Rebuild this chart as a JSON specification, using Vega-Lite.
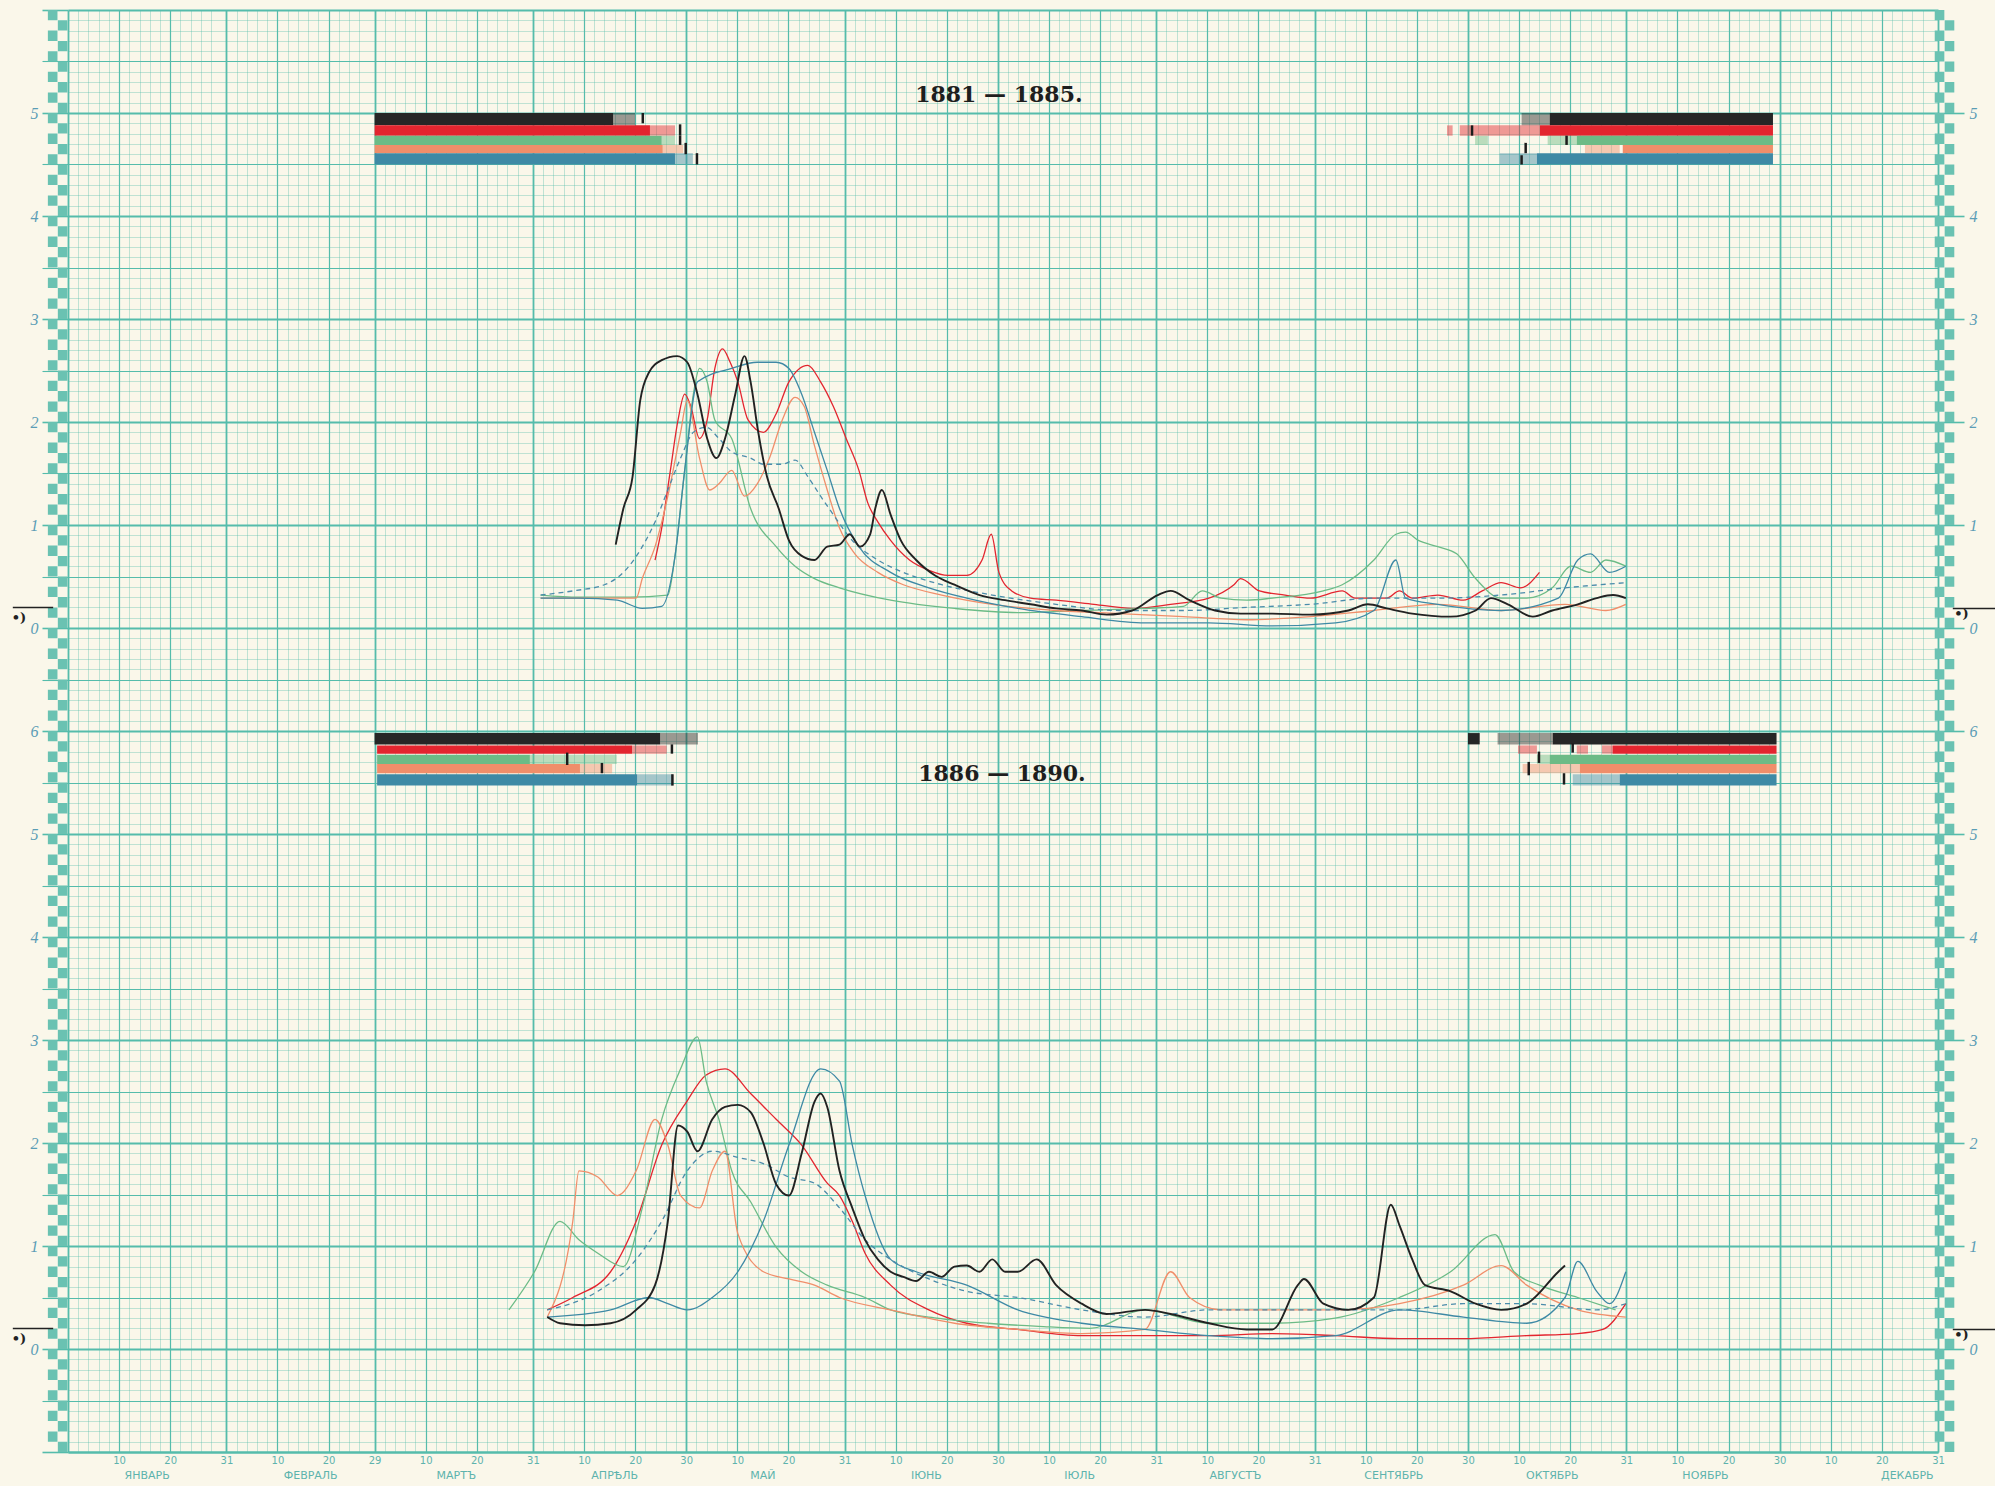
{
  "$schema": "https://vega.github.io/schema/vega-lite/v6.json",
  "width": 1870,
  "height": 1442,
  "autosize": {"type": "none"},
  "padding": {"left": 68, "top": 10, "right": 57, "bottom": 34},
  "background": "#faf7ea",
  "config": {"view": {"stroke": null}},
  "datasets": {
    "months": [
      {"name": "ЯНВАРЬ", "day": 15.5}, {"name": "ФЕВРАЛЬ", "day": 47.5}, {"name": "МАРТЪ", "day": 76},
      {"name": "АПРѢЛЬ", "day": 107}, {"name": "МАЙ", "day": 136}, {"name": "ІЮНЬ", "day": 168},
      {"name": "ІЮЛЬ", "day": 198}, {"name": "АВГУСТЪ", "day": 228.5}, {"name": "СЕНТЯБРЬ", "day": 259.5},
      {"name": "ОКТЯБРЬ", "day": 290.5}, {"name": "НОЯБРЬ", "day": 320.5}, {"name": "ДЕКАБРЬ", "day": 360}
    ],
    "titles": [
      {"period": "1881-1885", "text": "1881 — 1885.", "day": 182.2, "level": 5.17},
      {"period": "1886-1890", "text": "1886 — 1890.", "day": 182.8, "level": 5.58}
    ],
    "notes": [
      {"period": "1881-1885", "text": "•)", "day": -9.6, "level": 0.1},
      {"period": "1881-1885", "text": "•)", "day": 370.6, "level": 0.14},
      {"period": "1886-1890", "text": "•)", "day": -9.6, "level": 0.1},
      {"period": "1886-1890", "text": "•)", "day": 370.6, "level": 0.14}
    ],
    "marks": [
      {"period": "1881-1885", "from": -10.8, "to": -2.9, "level": 0.2},
      {"period": "1881-1885", "from": 368.9, "to": 377.2, "level": 0.19},
      {"period": "1886-1890", "from": -10.8, "to": -2.9, "level": 0.2},
      {"period": "1886-1890", "from": 368.9, "to": 377.2, "level": 0.19}
    ],
    "bars": [
      {"period": "1881-1885", "year": "1881", "tone": "solid", "start": 60, "end": 106.7, "top": 5.0, "bottom": 4.88},
      {"period": "1881-1885", "year": "1881", "tone": "light", "start": 106.7, "end": 111, "top": 5.0, "bottom": 4.88},
      {"period": "1881-1885", "year": "1881", "tone": "light", "start": 284.5, "end": 290, "top": 5.0, "bottom": 4.88},
      {"period": "1881-1885", "year": "1881", "tone": "solid", "start": 290, "end": 333.7, "top": 5.0, "bottom": 4.88},
      {"period": "1881-1885", "year": "1882", "tone": "solid", "start": 60, "end": 113.9, "top": 4.88, "bottom": 4.78},
      {"period": "1881-1885", "year": "1882", "tone": "light", "start": 113.9, "end": 118.8, "top": 4.88, "bottom": 4.78},
      {"period": "1881-1885", "year": "1882", "tone": "light", "start": 269.9, "end": 271.0, "top": 4.88, "bottom": 4.78},
      {"period": "1881-1885", "year": "1882", "tone": "light", "start": 272.4, "end": 288.1, "top": 4.88, "bottom": 4.78},
      {"period": "1881-1885", "year": "1882", "tone": "solid", "start": 288.1, "end": 333.7, "top": 4.88, "bottom": 4.78},
      {"period": "1881-1885", "year": "1883", "tone": "solid", "start": 60, "end": 116.2, "top": 4.78, "bottom": 4.69},
      {"period": "1881-1885", "year": "1883", "tone": "light", "start": 116.2, "end": 118.8, "top": 4.78, "bottom": 4.69},
      {"period": "1881-1885", "year": "1883", "tone": "light", "start": 275.4, "end": 277.9, "top": 4.78, "bottom": 4.69},
      {"period": "1881-1885", "year": "1883", "tone": "light", "start": 289.6, "end": 295.3, "top": 4.78, "bottom": 4.69},
      {"period": "1881-1885", "year": "1883", "tone": "solid", "start": 295.3, "end": 333.7, "top": 4.78, "bottom": 4.69},
      {"period": "1881-1885", "year": "1884", "tone": "solid", "start": 60, "end": 116.4, "top": 4.69, "bottom": 4.61},
      {"period": "1881-1885", "year": "1884", "tone": "light", "start": 116.4, "end": 120.4, "top": 4.69, "bottom": 4.61},
      {"period": "1881-1885", "year": "1884", "tone": "light", "start": 296.9, "end": 303.7, "top": 4.69, "bottom": 4.61},
      {"period": "1881-1885", "year": "1884", "tone": "solid", "start": 304.3, "end": 333.7, "top": 4.69, "bottom": 4.61},
      {"period": "1881-1885", "year": "1885", "tone": "solid", "start": 60, "end": 118.8, "top": 4.61, "bottom": 4.5},
      {"period": "1881-1885", "year": "1885", "tone": "light", "start": 118.8, "end": 122.3, "top": 4.61, "bottom": 4.5},
      {"period": "1881-1885", "year": "1885", "tone": "light", "start": 280.2, "end": 287.5, "top": 4.61, "bottom": 4.5},
      {"period": "1881-1885", "year": "1885", "tone": "solid", "start": 287.5, "end": 333.7, "top": 4.61, "bottom": 4.5},
      {"period": "1886-1890", "year": "1886", "tone": "solid", "start": 60, "end": 115.9, "top": 5.98, "bottom": 5.87},
      {"period": "1886-1890", "year": "1886", "tone": "light", "start": 115.9, "end": 123.3, "top": 5.98, "bottom": 5.87},
      {"period": "1886-1890", "year": "1886", "tone": "solid", "start": 274, "end": 276.3, "top": 5.98, "bottom": 5.87},
      {"period": "1886-1890", "year": "1886", "tone": "light", "start": 279.8, "end": 290.6, "top": 5.98, "bottom": 5.87},
      {"period": "1886-1890", "year": "1886", "tone": "solid", "start": 290.6, "end": 334.4, "top": 5.98, "bottom": 5.87},
      {"period": "1886-1890", "year": "1887", "tone": "solid", "start": 60.5, "end": 110.4, "top": 5.86, "bottom": 5.78},
      {"period": "1886-1890", "year": "1887", "tone": "light", "start": 110.4, "end": 117.2, "top": 5.86, "bottom": 5.78},
      {"period": "1886-1890", "year": "1887", "tone": "light", "start": 283.8, "end": 287.5, "top": 5.86, "bottom": 5.78},
      {"period": "1886-1890", "year": "1887", "tone": "light", "start": 295.3, "end": 297.5, "top": 5.86, "bottom": 5.78},
      {"period": "1886-1890", "year": "1887", "tone": "light", "start": 300.2, "end": 302.3, "top": 5.86, "bottom": 5.78},
      {"period": "1886-1890", "year": "1887", "tone": "solid", "start": 302.3, "end": 334.4, "top": 5.86, "bottom": 5.78},
      {"period": "1886-1890", "year": "1888", "tone": "solid", "start": 60.5, "end": 90.4, "top": 5.77, "bottom": 5.68},
      {"period": "1886-1890", "year": "1888", "tone": "light", "start": 90.4, "end": 107.4, "top": 5.77, "bottom": 5.68},
      {"period": "1886-1890", "year": "1888", "tone": "light", "start": 287.5, "end": 290, "top": 5.77, "bottom": 5.68},
      {"period": "1886-1890", "year": "1888", "tone": "solid", "start": 290, "end": 334.4, "top": 5.77, "bottom": 5.68},
      {"period": "1886-1890", "year": "1889", "tone": "solid", "start": 60.5, "end": 100.2, "top": 5.68, "bottom": 5.59},
      {"period": "1886-1890", "year": "1889", "tone": "light", "start": 100.2, "end": 106.5, "top": 5.68, "bottom": 5.59},
      {"period": "1886-1890", "year": "1889", "tone": "light", "start": 284.7, "end": 295.9, "top": 5.68, "bottom": 5.59},
      {"period": "1886-1890", "year": "1889", "tone": "solid", "start": 295.9, "end": 334.4, "top": 5.68, "bottom": 5.59},
      {"period": "1886-1890", "year": "1890", "tone": "solid", "start": 60.5, "end": 111.4, "top": 5.58, "bottom": 5.47},
      {"period": "1886-1890", "year": "1890", "tone": "light", "start": 111.4, "end": 118.4, "top": 5.58, "bottom": 5.47},
      {"period": "1886-1890", "year": "1890", "tone": "light", "start": 294.5, "end": 303.7, "top": 5.58, "bottom": 5.47},
      {"period": "1886-1890", "year": "1890", "tone": "solid", "start": 303.7, "end": 334.4, "top": 5.58, "bottom": 5.47}
    ],
    "ticks": [
      {"period": "1881-1885", "year": "1881", "day": 112.5, "top": 5.0, "bottom": 4.9},
      {"period": "1881-1885", "year": "1882", "day": 119.8, "top": 4.89, "bottom": 4.78},
      {"period": "1881-1885", "year": "1883", "day": 119.8, "top": 4.78, "bottom": 4.69},
      {"period": "1881-1885", "year": "1884", "day": 120.9, "top": 4.71, "bottom": 4.6},
      {"period": "1881-1885", "year": "1885", "day": 123.1, "top": 4.61, "bottom": 4.5},
      {"period": "1881-1885", "year": "1882", "day": 274.8, "top": 4.88, "bottom": 4.78},
      {"period": "1881-1885", "year": "1883", "day": 293.3, "top": 4.78, "bottom": 4.69},
      {"period": "1881-1885", "year": "1884", "day": 285.3, "top": 4.71, "bottom": 4.61},
      {"period": "1881-1885", "year": "1885", "day": 284.5, "top": 4.59, "bottom": 4.5},
      {"period": "1886-1890", "year": "1887", "day": 118.2, "top": 5.87, "bottom": 5.78},
      {"period": "1886-1890", "year": "1888", "day": 97.7, "top": 5.79, "bottom": 5.67},
      {"period": "1886-1890", "year": "1889", "day": 104.5, "top": 5.69, "bottom": 5.59},
      {"period": "1886-1890", "year": "1890", "day": 118.3, "top": 5.58, "bottom": 5.47},
      {"period": "1886-1890", "year": "1887", "day": 294.5, "top": 5.88, "bottom": 5.79},
      {"period": "1886-1890", "year": "1888", "day": 287.9, "top": 5.8, "bottom": 5.69},
      {"period": "1886-1890", "year": "1889", "day": 285.9, "top": 5.7, "bottom": 5.57},
      {"period": "1886-1890", "year": "1890", "day": 292.8, "top": 5.59, "bottom": 5.48}
    ],
    "lines": [
      {"period":"1881-1885","year":"1881","day":107.2,"level":0.81},{"period":"1881-1885","year":"1881","day":108.7,"level":1.16},{"period":"1881-1885","year":"1881","day":110.5,"level":1.47},{"period":"1881-1885","year":"1881","day":112.0,"level":2.21},{"period":"1881-1885","year":"1881","day":113.7,"level":2.48},{"period":"1881-1885","year":"1881","day":116.2,"level":2.6},{"period":"1881-1885","year":"1881","day":119.2,"level":2.64},{"period":"1881-1885","year":"1881","day":121.2,"level":2.58},{"period":"1881-1885","year":"1881","day":123.2,"level":2.27},{"period":"1881-1885","year":"1881","day":125.1,"level":1.84},{"period":"1881-1885","year":"1881","day":126.9,"level":1.65},{"period":"1881-1885","year":"1881","day":128.6,"level":1.84},{"period":"1881-1885","year":"1881","day":130.6,"level":2.27},{"period":"1881-1885","year":"1881","day":132.4,"level":2.64},{"period":"1881-1885","year":"1881","day":133.6,"level":2.39},{"period":"1881-1885","year":"1881","day":135.1,"level":1.9},{"period":"1881-1885","year":"1881","day":136.8,"level":1.47},{"period":"1881-1885","year":"1881","day":139.1,"level":1.16},{"period":"1881-1885","year":"1881","day":141.1,"level":0.85},{"period":"1881-1885","year":"1881","day":143.6,"level":0.7},{"period":"1881-1885","year":"1881","day":146.1,"level":0.66},{"period":"1881-1885","year":"1881","day":148.6,"level":0.79},{"period":"1881-1885","year":"1881","day":151.0,"level":0.81},{"period":"1881-1885","year":"1881","day":153.0,"level":0.91},{"period":"1881-1885","year":"1881","day":155.0,"level":0.79},{"period":"1881-1885","year":"1881","day":157.0,"level":0.91},{"period":"1881-1885","year":"1881","day":158.0,"level":1.16},{"period":"1881-1885","year":"1881","day":159.3,"level":1.34},{"period":"1881-1885","year":"1881","day":161.0,"level":1.1},{"period":"1881-1885","year":"1881","day":163.0,"level":0.85},{"period":"1881-1885","year":"1881","day":166.0,"level":0.66},{"period":"1881-1885","year":"1881","day":169.7,"level":0.51},{"period":"1881-1885","year":"1881","day":173.5,"level":0.42},{"period":"1881-1885","year":"1881","day":178.4,"level":0.32},{"period":"1881-1885","year":"1881","day":183.4,"level":0.27},{"period":"1881-1885","year":"1881","day":188.4,"level":0.23},{"period":"1881-1885","year":"1881","day":193.4,"level":0.19},{"period":"1881-1885","year":"1881","day":198.4,"level":0.17},{"period":"1881-1885","year":"1881","day":203.3,"level":0.13},{"period":"1881-1885","year":"1881","day":208.3,"level":0.17},{"period":"1881-1885","year":"1881","day":213.3,"level":0.32},{"period":"1881-1885","year":"1881","day":215.8,"level":0.36},{"period":"1881-1885","year":"1881","day":219.5,"level":0.27},{"period":"1881-1885","year":"1881","day":224.5,"level":0.17},{"period":"1881-1885","year":"1881","day":229.5,"level":0.14},{"period":"1881-1885","year":"1881","day":235.7,"level":0.14},{"period":"1881-1885","year":"1881","day":243.2,"level":0.13},{"period":"1881-1885","year":"1881","day":250.6,"level":0.17},{"period":"1881-1885","year":"1881","day":254.4,"level":0.23},{"period":"1881-1885","year":"1881","day":258.1,"level":0.19},{"period":"1881-1885","year":"1881","day":263.1,"level":0.14},{"period":"1881-1885","year":"1881","day":270.6,"level":0.11},{"period":"1881-1885","year":"1881","day":275.5,"level":0.17},{"period":"1881-1885","year":"1881","day":278.5,"level":0.29},{"period":"1881-1885","year":"1881","day":281.8,"level":0.23},{"period":"1881-1885","year":"1881","day":286.7,"level":0.11},{"period":"1881-1885","year":"1881","day":290.5,"level":0.17},{"period":"1881-1885","year":"1881","day":295.5,"level":0.23},{"period":"1881-1885","year":"1881","day":299.2,"level":0.29},{"period":"1881-1885","year":"1881","day":302.4,"level":0.32},{"period":"1881-1885","year":"1881","day":304.9,"level":0.29},
      {"period":"1881-1885","year":"1882","day":114.9,"level":0.66},{"period":"1881-1885","year":"1882","day":116.2,"level":0.97},{"period":"1881-1885","year":"1882","day":117.9,"level":1.53},{"period":"1881-1885","year":"1882","day":119.4,"level":2.02},{"period":"1881-1885","year":"1882","day":120.7,"level":2.27},{"period":"1881-1885","year":"1882","day":121.9,"level":2.15},{"period":"1881-1885","year":"1882","day":123.6,"level":1.84},{"period":"1881-1885","year":"1882","day":125.1,"level":2.02},{"period":"1881-1885","year":"1882","day":126.6,"level":2.52},{"period":"1881-1885","year":"1882","day":128.1,"level":2.71},{"period":"1881-1885","year":"1882","day":129.6,"level":2.58},{"period":"1881-1885","year":"1882","day":131.1,"level":2.39},{"period":"1881-1885","year":"1882","day":133.1,"level":2.02},{"period":"1881-1885","year":"1882","day":136.1,"level":1.9},{"period":"1881-1885","year":"1882","day":138.6,"level":2.08},{"period":"1881-1885","year":"1882","day":141.1,"level":2.39},{"period":"1881-1885","year":"1882","day":144.8,"level":2.55},{"period":"1881-1885","year":"1882","day":147.3,"level":2.39},{"period":"1881-1885","year":"1882","day":149.8,"level":2.15},{"period":"1881-1885","year":"1882","day":152.3,"level":1.84},{"period":"1881-1885","year":"1882","day":154.8,"level":1.53},{"period":"1881-1885","year":"1882","day":156.5,"level":1.22},{"period":"1881-1885","year":"1882","day":158.5,"level":1.03},{"period":"1881-1885","year":"1882","day":161.0,"level":0.85},{"period":"1881-1885","year":"1882","day":164.7,"level":0.66},{"period":"1881-1885","year":"1882","day":168.5,"level":0.56},{"period":"1881-1885","year":"1882","day":172.2,"level":0.51},{"period":"1881-1885","year":"1882","day":175.9,"level":0.51},{"period":"1881-1885","year":"1882","day":178.9,"level":0.66},{"period":"1881-1885","year":"1882","day":180.7,"level":0.91},{"period":"1881-1885","year":"1882","day":182.2,"level":0.54},{"period":"1881-1885","year":"1882","day":184.7,"level":0.36},{"period":"1881-1885","year":"1882","day":188.4,"level":0.29},{"period":"1881-1885","year":"1882","day":193.4,"level":0.27},{"period":"1881-1885","year":"1882","day":200.8,"level":0.23},{"period":"1881-1885","year":"1882","day":208.3,"level":0.19},{"period":"1881-1885","year":"1882","day":215.8,"level":0.23},{"period":"1881-1885","year":"1882","day":223.3,"level":0.29},{"period":"1881-1885","year":"1882","day":228.2,"level":0.42},{"period":"1881-1885","year":"1882","day":229.5,"level":0.48},{"period":"1881-1885","year":"1882","day":233.2,"level":0.36},{"period":"1881-1885","year":"1882","day":238.2,"level":0.32},{"period":"1881-1885","year":"1882","day":243.2,"level":0.29},{"period":"1881-1885","year":"1882","day":249.4,"level":0.36},{"period":"1881-1885","year":"1882","day":251.9,"level":0.29},{"period":"1881-1885","year":"1882","day":258.1,"level":0.29},{"period":"1881-1885","year":"1882","day":260.6,"level":0.36},{"period":"1881-1885","year":"1882","day":263.1,"level":0.29},{"period":"1881-1885","year":"1882","day":268.1,"level":0.32},{"period":"1881-1885","year":"1882","day":273.1,"level":0.27},{"period":"1881-1885","year":"1882","day":276.8,"level":0.36},{"period":"1881-1885","year":"1882","day":280.5,"level":0.44},{"period":"1881-1885","year":"1882","day":284.3,"level":0.39},{"period":"1881-1885","year":"1882","day":288.0,"level":0.54},
      {"period":"1881-1885","year":"1883","day":92.5,"level":0.32},{"period":"1881-1885","year":"1883","day":100.0,"level":0.3},{"period":"1881-1885","year":"1883","day":110.0,"level":0.3},{"period":"1881-1885","year":"1883","day":117.4,"level":0.32},{"period":"1881-1885","year":"1883","day":118.7,"level":0.66},{"period":"1881-1885","year":"1883","day":120.7,"level":1.53},{"period":"1881-1885","year":"1883","day":122.4,"level":2.27},{"period":"1881-1885","year":"1883","day":123.6,"level":2.52},{"period":"1881-1885","year":"1883","day":125.1,"level":2.39},{"period":"1881-1885","year":"1883","day":126.6,"level":2.02},{"period":"1881-1885","year":"1883","day":129.9,"level":1.84},{"period":"1881-1885","year":"1883","day":133.6,"level":1.16},{"period":"1881-1885","year":"1883","day":138.6,"level":0.79},{"period":"1881-1885","year":"1883","day":142.3,"level":0.6},{"period":"1881-1885","year":"1883","day":146.1,"level":0.48},{"period":"1881-1885","year":"1883","day":151.0,"level":0.39},{"period":"1881-1885","year":"1883","day":161.0,"level":0.27},{"period":"1881-1885","year":"1883","day":173.5,"level":0.19},{"period":"1881-1885","year":"1883","day":185.9,"level":0.15},{"period":"1881-1885","year":"1883","day":198.4,"level":0.17},{"period":"1881-1885","year":"1883","day":210.8,"level":0.19},{"period":"1881-1885","year":"1883","day":218.3,"level":0.21},{"period":"1881-1885","year":"1883","day":222.0,"level":0.36},{"period":"1881-1885","year":"1883","day":225.7,"level":0.29},{"period":"1881-1885","year":"1883","day":230.7,"level":0.27},{"period":"1881-1885","year":"1883","day":235.7,"level":0.29},{"period":"1881-1885","year":"1883","day":245.7,"level":0.36},{"period":"1881-1885","year":"1883","day":249.4,"level":0.42},{"period":"1881-1885","year":"1883","day":255.6,"level":0.66},{"period":"1881-1885","year":"1883","day":259.9,"level":0.91},{"period":"1881-1885","year":"1883","day":261.8,"level":0.93},{"period":"1881-1885","year":"1883","day":264.3,"level":0.85},{"period":"1881-1885","year":"1883","day":268.1,"level":0.79},{"period":"1881-1885","year":"1883","day":271.8,"level":0.72},{"period":"1881-1885","year":"1883","day":275.5,"level":0.48},{"period":"1881-1885","year":"1883","day":280.5,"level":0.29},{"period":"1881-1885","year":"1883","day":285.5,"level":0.29},{"period":"1881-1885","year":"1883","day":290.5,"level":0.39},{"period":"1881-1885","year":"1883","day":294.2,"level":0.6},{"period":"1881-1885","year":"1883","day":298.0,"level":0.54},{"period":"1881-1885","year":"1883","day":301.0,"level":0.66},{"period":"1881-1885","year":"1883","day":304.9,"level":0.6},
      {"period":"1881-1885","year":"1884","day":92.5,"level":0.29},{"period":"1881-1885","year":"1884","day":100.0,"level":0.29},{"period":"1881-1885","year":"1884","day":111.2,"level":0.29},{"period":"1881-1885","year":"1884","day":112.4,"level":0.48},{"period":"1881-1885","year":"1884","day":114.9,"level":0.79},{"period":"1881-1885","year":"1884","day":117.4,"level":1.28},{"period":"1881-1885","year":"1884","day":119.9,"level":1.9},{"period":"1881-1885","year":"1884","day":121.2,"level":2.21},{"period":"1881-1885","year":"1884","day":123.6,"level":1.65},{"period":"1881-1885","year":"1884","day":125.6,"level":1.34},{"period":"1881-1885","year":"1884","day":127.4,"level":1.4},{"period":"1881-1885","year":"1884","day":129.9,"level":1.53},{"period":"1881-1885","year":"1884","day":132.4,"level":1.28},{"period":"1881-1885","year":"1884","day":134.9,"level":1.4},{"period":"1881-1885","year":"1884","day":137.3,"level":1.65},{"period":"1881-1885","year":"1884","day":139.8,"level":2.02},{"period":"1881-1885","year":"1884","day":142.3,"level":2.24},{"period":"1881-1885","year":"1884","day":144.1,"level":2.15},{"period":"1881-1885","year":"1884","day":146.1,"level":1.77},{"period":"1881-1885","year":"1884","day":148.6,"level":1.34},{"period":"1881-1885","year":"1884","day":151.0,"level":0.97},{"period":"1881-1885","year":"1884","day":154.0,"level":0.72},{"period":"1881-1885","year":"1884","day":158.5,"level":0.54},{"period":"1881-1885","year":"1884","day":163.5,"level":0.42},{"period":"1881-1885","year":"1884","day":171.0,"level":0.32},{"period":"1881-1885","year":"1884","day":180.9,"level":0.23},{"period":"1881-1885","year":"1884","day":193.4,"level":0.17},{"period":"1881-1885","year":"1884","day":205.8,"level":0.14},{"period":"1881-1885","year":"1884","day":218.3,"level":0.11},{"period":"1881-1885","year":"1884","day":230.7,"level":0.08},{"period":"1881-1885","year":"1884","day":243.2,"level":0.11},{"period":"1881-1885","year":"1884","day":255.6,"level":0.17},{"period":"1881-1885","year":"1884","day":268.1,"level":0.23},{"period":"1881-1885","year":"1884","day":280.5,"level":0.17},{"period":"1881-1885","year":"1884","day":293.0,"level":0.23},{"period":"1881-1885","year":"1884","day":301.0,"level":0.17},{"period":"1881-1885","year":"1884","day":304.9,"level":0.23},
      {"period":"1881-1885","year":"1885","day":92.5,"level":0.29},{"period":"1881-1885","year":"1885","day":100.0,"level":0.29},{"period":"1881-1885","year":"1885","day":107.5,"level":0.27},{"period":"1881-1885","year":"1885","day":112.4,"level":0.19},{"period":"1881-1885","year":"1885","day":116.2,"level":0.21},{"period":"1881-1885","year":"1885","day":118.7,"level":0.66},{"period":"1881-1885","year":"1885","day":120.7,"level":1.53},{"period":"1881-1885","year":"1885","day":123.2,"level":2.39},{"period":"1881-1885","year":"1885","day":129.9,"level":2.52},{"period":"1881-1885","year":"1885","day":134.9,"level":2.58},{"period":"1881-1885","year":"1885","day":138.6,"level":2.58},{"period":"1881-1885","year":"1885","day":141.1,"level":2.52},{"period":"1881-1885","year":"1885","day":143.6,"level":2.27},{"period":"1881-1885","year":"1885","day":146.1,"level":1.9},{"period":"1881-1885","year":"1885","day":148.6,"level":1.53},{"period":"1881-1885","year":"1885","day":151.0,"level":1.16},{"period":"1881-1885","year":"1885","day":154.8,"level":0.79},{"period":"1881-1885","year":"1885","day":161.0,"level":0.54},{"period":"1881-1885","year":"1885","day":168.5,"level":0.39},{"period":"1881-1885","year":"1885","day":175.9,"level":0.29},{"period":"1881-1885","year":"1885","day":185.9,"level":0.19},{"period":"1881-1885","year":"1885","day":198.4,"level":0.11},{"period":"1881-1885","year":"1885","day":210.8,"level":0.05},{"period":"1881-1885","year":"1885","day":223.3,"level":0.05},{"period":"1881-1885","year":"1885","day":235.7,"level":0.02},{"period":"1881-1885","year":"1885","day":248.1,"level":0.05},{"period":"1881-1885","year":"1885","day":255.6,"level":0.17},{"period":"1881-1885","year":"1885","day":259.9,"level":0.66},{"period":"1881-1885","year":"1885","day":261.8,"level":0.29},{"period":"1881-1885","year":"1885","day":268.1,"level":0.23},{"period":"1881-1885","year":"1885","day":280.5,"level":0.17},{"period":"1881-1885","year":"1885","day":291.7,"level":0.29},{"period":"1881-1885","year":"1885","day":295.5,"level":0.66},{"period":"1881-1885","year":"1885","day":298.0,"level":0.72},{"period":"1881-1885","year":"1885","day":301.7,"level":0.54},{"period":"1881-1885","year":"1885","day":304.9,"level":0.6},
      {"period":"1881-1885","year":"mean","day":92.5,"level":0.32},{"period":"1881-1885","year":"mean","day":98.8,"level":0.36},{"period":"1881-1885","year":"mean","day":105.0,"level":0.42},{"period":"1881-1885","year":"mean","day":108.7,"level":0.54},{"period":"1881-1885","year":"mean","day":112.4,"level":0.79},{"period":"1881-1885","year":"mean","day":114.9,"level":1.03},{"period":"1881-1885","year":"mean","day":117.4,"level":1.34},{"period":"1881-1885","year":"mean","day":119.9,"level":1.65},{"period":"1881-1885","year":"mean","day":122.4,"level":1.9},{"period":"1881-1885","year":"mean","day":124.9,"level":1.95},{"period":"1881-1885","year":"mean","day":127.4,"level":1.84},{"period":"1881-1885","year":"mean","day":129.9,"level":1.71},{"period":"1881-1885","year":"mean","day":133.6,"level":1.65},{"period":"1881-1885","year":"mean","day":136.1,"level":1.59},{"period":"1881-1885","year":"mean","day":139.8,"level":1.59},{"period":"1881-1885","year":"mean","day":142.3,"level":1.63},{"period":"1881-1885","year":"mean","day":144.8,"level":1.47},{"period":"1881-1885","year":"mean","day":147.3,"level":1.28},{"period":"1881-1885","year":"mean","day":149.8,"level":1.1},{"period":"1881-1885","year":"mean","day":153.5,"level":0.85},{"period":"1881-1885","year":"mean","day":158.5,"level":0.66},{"period":"1881-1885","year":"mean","day":163.5,"level":0.54},{"period":"1881-1885","year":"mean","day":171.0,"level":0.42},{"period":"1881-1885","year":"mean","day":180.9,"level":0.32},{"period":"1881-1885","year":"mean","day":193.4,"level":0.23},{"period":"1881-1885","year":"mean","day":205.8,"level":0.17},{"period":"1881-1885","year":"mean","day":218.3,"level":0.17},{"period":"1881-1885","year":"mean","day":230.7,"level":0.2},{"period":"1881-1885","year":"mean","day":243.2,"level":0.23},{"period":"1881-1885","year":"mean","day":255.6,"level":0.29},{"period":"1881-1885","year":"mean","day":268.1,"level":0.29},{"period":"1881-1885","year":"mean","day":280.5,"level":0.32},{"period":"1881-1885","year":"mean","day":293.0,"level":0.39},{"period":"1881-1885","year":"mean","day":304.9,"level":0.44},
      {"period":"1886-1890","year":"1886","day":93.8,"level":0.31},{"period":"1886-1890","year":"1886","day":96.3,"level":0.25},{"period":"1886-1890","year":"1886","day":101.2,"level":0.23},{"period":"1886-1890","year":"1886","day":106.2,"level":0.25},{"period":"1886-1890","year":"1886","day":111.2,"level":0.38},{"period":"1886-1890","year":"1886","day":114.9,"level":0.62},{"period":"1886-1890","year":"1886","day":117.4,"level":1.24},{"period":"1886-1890","year":"1886","day":119.4,"level":2.17},{"period":"1886-1890","year":"1886","day":121.2,"level":2.11},{"period":"1886-1890","year":"1886","day":123.2,"level":1.92},{"period":"1886-1890","year":"1886","day":126.1,"level":2.23},{"period":"1886-1890","year":"1886","day":128.6,"level":2.35},{"period":"1886-1890","year":"1886","day":131.1,"level":2.37},{"period":"1886-1890","year":"1886","day":133.6,"level":2.3},{"period":"1886-1890","year":"1886","day":136.1,"level":2.0},{"period":"1886-1890","year":"1886","day":138.6,"level":1.6},{"period":"1886-1890","year":"1886","day":141.1,"level":1.49},{"period":"1886-1890","year":"1886","day":143.6,"level":1.9},{"period":"1886-1890","year":"1886","day":146.1,"level":2.4},{"period":"1886-1890","year":"1886","day":147.3,"level":2.48},{"period":"1886-1890","year":"1886","day":148.6,"level":2.35},{"period":"1886-1890","year":"1886","day":151.0,"level":1.73},{"period":"1886-1890","year":"1886","day":153.5,"level":1.37},{"period":"1886-1890","year":"1886","day":156.0,"level":1.06},{"period":"1886-1890","year":"1886","day":158.5,"level":0.87},{"period":"1886-1890","year":"1886","day":161.0,"level":0.75},{"period":"1886-1890","year":"1886","day":163.5,"level":0.7},{"period":"1886-1890","year":"1886","day":166.0,"level":0.66},{"period":"1886-1890","year":"1886","day":168.5,"level":0.75},{"period":"1886-1890","year":"1886","day":171.0,"level":0.7},{"period":"1886-1890","year":"1886","day":173.5,"level":0.8},{"period":"1886-1890","year":"1886","day":175.9,"level":0.81},{"period":"1886-1890","year":"1886","day":178.4,"level":0.75},{"period":"1886-1890","year":"1886","day":180.9,"level":0.87},{"period":"1886-1890","year":"1886","day":183.4,"level":0.75},{"period":"1886-1890","year":"1886","day":185.9,"level":0.75},{"period":"1886-1890","year":"1886","day":189.6,"level":0.87},{"period":"1886-1890","year":"1886","day":193.4,"level":0.62},{"period":"1886-1890","year":"1886","day":198.4,"level":0.44},{"period":"1886-1890","year":"1886","day":203.3,"level":0.34},{"period":"1886-1890","year":"1886","day":210.8,"level":0.38},{"period":"1886-1890","year":"1886","day":215.8,"level":0.34},{"period":"1886-1890","year":"1886","day":223.3,"level":0.25},{"period":"1886-1890","year":"1886","day":230.7,"level":0.19},{"period":"1886-1890","year":"1886","day":235.7,"level":0.19},{"period":"1886-1890","year":"1886","day":240.7,"level":0.62},{"period":"1886-1890","year":"1886","day":241.9,"level":0.68},{"period":"1886-1890","year":"1886","day":245.7,"level":0.44},{"period":"1886-1890","year":"1886","day":250.6,"level":0.38},{"period":"1886-1890","year":"1886","day":255.6,"level":0.5},{"period":"1886-1890","year":"1886","day":258.9,"level":1.4},{"period":"1886-1890","year":"1886","day":260.6,"level":1.2},{"period":"1886-1890","year":"1886","day":263.1,"level":0.87},{"period":"1886-1890","year":"1886","day":265.6,"level":0.62},{"period":"1886-1890","year":"1886","day":270.6,"level":0.56},{"period":"1886-1890","year":"1886","day":275.5,"level":0.44},{"period":"1886-1890","year":"1886","day":280.5,"level":0.38},{"period":"1886-1890","year":"1886","day":285.5,"level":0.44},{"period":"1886-1890","year":"1886","day":291.7,"level":0.75},{"period":"1886-1890","year":"1886","day":293.0,"level":0.81},
      {"period":"1886-1890","year":"1887","day":93.8,"level":0.38},{"period":"1886-1890","year":"1887","day":98.8,"level":0.5},{"period":"1886-1890","year":"1887","day":106.2,"level":0.75},{"period":"1886-1890","year":"1887","day":111.2,"level":1.24},{"period":"1886-1890","year":"1887","day":116.2,"level":1.98},{"period":"1886-1890","year":"1887","day":121.2,"level":2.41},{"period":"1886-1890","year":"1887","day":124.9,"level":2.66},{"period":"1886-1890","year":"1887","day":128.6,"level":2.72},{"period":"1886-1890","year":"1887","day":133.6,"level":2.48},{"period":"1886-1890","year":"1887","day":138.6,"level":2.23},{"period":"1886-1890","year":"1887","day":143.6,"level":1.98},{"period":"1886-1890","year":"1887","day":148.6,"level":1.61},{"period":"1886-1890","year":"1887","day":151.0,"level":1.49},{"period":"1886-1890","year":"1887","day":153.5,"level":1.24},{"period":"1886-1890","year":"1887","day":156.0,"level":0.93},{"period":"1886-1890","year":"1887","day":161.0,"level":0.62},{"period":"1886-1890","year":"1887","day":168.5,"level":0.38},{"period":"1886-1890","year":"1887","day":175.9,"level":0.25},{"period":"1886-1890","year":"1887","day":185.9,"level":0.19},{"period":"1886-1890","year":"1887","day":198.4,"level":0.13},{"period":"1886-1890","year":"1887","day":210.8,"level":0.13},{"period":"1886-1890","year":"1887","day":223.3,"level":0.13},{"period":"1886-1890","year":"1887","day":235.7,"level":0.15},{"period":"1886-1890","year":"1887","day":248.1,"level":0.13},{"period":"1886-1890","year":"1887","day":260.6,"level":0.1},{"period":"1886-1890","year":"1887","day":273.1,"level":0.1},{"period":"1886-1890","year":"1887","day":285.5,"level":0.13},{"period":"1886-1890","year":"1887","day":295.5,"level":0.15},{"period":"1886-1890","year":"1887","day":300.4,"level":0.19},{"period":"1886-1890","year":"1887","day":304.9,"level":0.44},
      {"period":"1886-1890","year":"1888","day":86.3,"level":0.38},{"period":"1886-1890","year":"1888","day":91.3,"level":0.75},{"period":"1886-1890","year":"1888","day":96.3,"level":1.24},{"period":"1886-1890","year":"1888","day":100.0,"level":1.06},{"period":"1886-1890","year":"1888","day":103.7,"level":0.93},{"period":"1886-1890","year":"1888","day":108.7,"level":0.8},{"period":"1886-1890","year":"1888","day":112.4,"level":1.37},{"period":"1886-1890","year":"1888","day":116.2,"level":2.23},{"period":"1886-1890","year":"1888","day":119.9,"level":2.72},{"period":"1886-1890","year":"1888","day":123.2,"level":3.03},{"period":"1886-1890","year":"1888","day":124.9,"level":2.6},{"period":"1886-1890","year":"1888","day":127.4,"level":2.23},{"period":"1886-1890","year":"1888","day":129.9,"level":1.73},{"period":"1886-1890","year":"1888","day":133.6,"level":1.43},{"period":"1886-1890","year":"1888","day":138.6,"level":0.99},{"period":"1886-1890","year":"1888","day":143.6,"level":0.75},{"period":"1886-1890","year":"1888","day":148.6,"level":0.62},{"period":"1886-1890","year":"1888","day":156.0,"level":0.5},{"period":"1886-1890","year":"1888","day":161.0,"level":0.38},{"period":"1886-1890","year":"1888","day":170.0,"level":0.3},{"period":"1886-1890","year":"1888","day":180.0,"level":0.25},{"period":"1886-1890","year":"1888","day":190.0,"level":0.22},{"period":"1886-1890","year":"1888","day":200.0,"level":0.2},{"period":"1886-1890","year":"1888","day":210.8,"level":0.38},{"period":"1886-1890","year":"1888","day":223.3,"level":0.25},{"period":"1886-1890","year":"1888","day":235.7,"level":0.25},{"period":"1886-1890","year":"1888","day":248.0,"level":0.3},{"period":"1886-1890","year":"1888","day":260.6,"level":0.5},{"period":"1886-1890","year":"1888","day":270.6,"level":0.75},{"period":"1886-1890","year":"1888","day":279.3,"level":1.11},{"period":"1886-1890","year":"1888","day":283.0,"level":0.75},{"period":"1886-1890","year":"1888","day":288.0,"level":0.62},{"period":"1886-1890","year":"1888","day":295.5,"level":0.5},{"period":"1886-1890","year":"1888","day":302.9,"level":0.38},
      {"period":"1886-1890","year":"1889","day":93.8,"level":0.31},{"period":"1886-1890","year":"1889","day":98.8,"level":1.24},{"period":"1886-1890","year":"1889","day":100.0,"level":1.73},{"period":"1886-1890","year":"1889","day":103.7,"level":1.67},{"period":"1886-1890","year":"1889","day":107.5,"level":1.49},{"period":"1886-1890","year":"1889","day":111.2,"level":1.73},{"period":"1886-1890","year":"1889","day":114.9,"level":2.23},{"period":"1886-1890","year":"1889","day":117.4,"level":1.98},{"period":"1886-1890","year":"1889","day":119.9,"level":1.49},{"period":"1886-1890","year":"1889","day":123.6,"level":1.37},{"period":"1886-1890","year":"1889","day":126.1,"level":1.73},{"period":"1886-1890","year":"1889","day":128.6,"level":1.92},{"period":"1886-1890","year":"1889","day":131.1,"level":1.12},{"period":"1886-1890","year":"1889","day":136.1,"level":0.75},{"period":"1886-1890","year":"1889","day":141.1,"level":0.68},{"period":"1886-1890","year":"1889","day":146.1,"level":0.62},{"period":"1886-1890","year":"1889","day":151.0,"level":0.5},{"period":"1886-1890","year":"1889","day":161.0,"level":0.38},{"period":"1886-1890","year":"1889","day":173.5,"level":0.25},{"period":"1886-1890","year":"1889","day":185.9,"level":0.19},{"period":"1886-1890","year":"1889","day":198.4,"level":0.15},{"period":"1886-1890","year":"1889","day":210.8,"level":0.19},{"period":"1886-1890","year":"1889","day":215.8,"level":0.75},{"period":"1886-1890","year":"1889","day":219.5,"level":0.5},{"period":"1886-1890","year":"1889","day":225.7,"level":0.38},{"period":"1886-1890","year":"1889","day":235.7,"level":0.38},{"period":"1886-1890","year":"1889","day":248.1,"level":0.38},{"period":"1886-1890","year":"1889","day":260.6,"level":0.44},{"period":"1886-1890","year":"1889","day":273.1,"level":0.62},{"period":"1886-1890","year":"1889","day":280.5,"level":0.81},{"period":"1886-1890","year":"1889","day":285.5,"level":0.62},{"period":"1886-1890","year":"1889","day":295.5,"level":0.38},{"period":"1886-1890","year":"1889","day":304.9,"level":0.31},
      {"period":"1886-1890","year":"1890","day":93.8,"level":0.31},{"period":"1886-1890","year":"1890","day":106.2,"level":0.38},{"period":"1886-1890","year":"1890","day":113.7,"level":0.5},{"period":"1886-1890","year":"1890","day":117.4,"level":0.44},{"period":"1886-1890","year":"1890","day":121.2,"level":0.38},{"period":"1886-1890","year":"1890","day":126.1,"level":0.5},{"period":"1886-1890","year":"1890","day":131.1,"level":0.75},{"period":"1886-1890","year":"1890","day":136.1,"level":1.24},{"period":"1886-1890","year":"1890","day":141.1,"level":1.98},{"period":"1886-1890","year":"1890","day":147.3,"level":2.72},{"period":"1886-1890","year":"1890","day":151.0,"level":2.6},{"period":"1886-1890","year":"1890","day":153.5,"level":1.98},{"period":"1886-1890","year":"1890","day":156.0,"level":1.49},{"period":"1886-1890","year":"1890","day":161.0,"level":0.87},{"period":"1886-1890","year":"1890","day":166.0,"level":0.75},{"period":"1886-1890","year":"1890","day":175.9,"level":0.62},{"period":"1886-1890","year":"1890","day":185.9,"level":0.38},{"period":"1886-1890","year":"1890","day":198.4,"level":0.25},{"period":"1886-1890","year":"1890","day":210.8,"level":0.19},{"period":"1886-1890","year":"1890","day":223.3,"level":0.13},{"period":"1886-1890","year":"1890","day":235.7,"level":0.1},{"period":"1886-1890","year":"1890","day":248.1,"level":0.13},{"period":"1886-1890","year":"1890","day":260.6,"level":0.38},{"period":"1886-1890","year":"1890","day":273.1,"level":0.31},{"period":"1886-1890","year":"1890","day":285.5,"level":0.25},{"period":"1886-1890","year":"1890","day":293.0,"level":0.5},{"period":"1886-1890","year":"1890","day":295.5,"level":0.85},{"period":"1886-1890","year":"1890","day":299.2,"level":0.56},{"period":"1886-1890","year":"1890","day":301.7,"level":0.44},{"period":"1886-1890","year":"1890","day":304.9,"level":0.75},
      {"period":"1886-1890","year":"mean","day":93.8,"level":0.38},{"period":"1886-1890","year":"mean","day":103.7,"level":0.56},{"period":"1886-1890","year":"mean","day":111.2,"level":0.87},{"period":"1886-1890","year":"mean","day":116.2,"level":1.24},{"period":"1886-1890","year":"mean","day":121.2,"level":1.73},{"period":"1886-1890","year":"mean","day":126.1,"level":1.92},{"period":"1886-1890","year":"mean","day":131.1,"level":1.86},{"period":"1886-1890","year":"mean","day":136.1,"level":1.8},{"period":"1886-1890","year":"mean","day":141.1,"level":1.67},{"period":"1886-1890","year":"mean","day":146.1,"level":1.61},{"period":"1886-1890","year":"mean","day":151.0,"level":1.37},{"period":"1886-1890","year":"mean","day":156.0,"level":1.06},{"period":"1886-1890","year":"mean","day":161.0,"level":0.87},{"period":"1886-1890","year":"mean","day":168.5,"level":0.68},{"period":"1886-1890","year":"mean","day":175.9,"level":0.56},{"period":"1886-1890","year":"mean","day":185.9,"level":0.5},{"period":"1886-1890","year":"mean","day":198.4,"level":0.38},{"period":"1886-1890","year":"mean","day":210.8,"level":0.31},{"period":"1886-1890","year":"mean","day":223.3,"level":0.38},{"period":"1886-1890","year":"mean","day":235.7,"level":0.38},{"period":"1886-1890","year":"mean","day":248.1,"level":0.38},{"period":"1886-1890","year":"mean","day":260.6,"level":0.38},{"period":"1886-1890","year":"mean","day":273.1,"level":0.44},{"period":"1886-1890","year":"mean","day":285.5,"level":0.44},{"period":"1886-1890","year":"mean","day":299.2,"level":0.38},{"period":"1886-1890","year":"mean","day":304.9,"level":0.44}
    ]
  },
  "resolve": {"scale": {"y": "independent"}},
  "layer": [
    {
      "data": {"name": "bars"},
      "transform": [{"filter": "datum.period == '1886-1890'"}],
      "mark": {"type": "rect"},
      "encoding": {
        "x": {"field": "start", "type": "quantitative", "scale": {"domain": [0, 366], "nice": false, "zero": false},
          "axis": {
            "orient": "bottom", "title": null, "tickCount": 1000,
            "values": [0,2,4,6,8,10,12,14,16,18,20,22,24,26,28,31,33,35,37,39,41,43,45,47,49,51,53,55,57,60,62,64,66,68,70,72,74,76,78,80,82,84,86,88,91,93,95,97,99,101,103,105,107,109,111,113,115,117,119,121,123,125,127,129,131,133,135,137,139,141,143,145,147,149,152,154,156,158,160,162,164,166,168,170,172,174,176,178,180,182,184,186,188,190,192,194,196,198,200,202,204,206,208,210,213,215,217,219,221,223,225,227,229,231,233,235,237,239,241,244,246,248,250,252,254,256,258,260,262,264,266,268,270,272,274,276,278,280,282,284,286,288,290,292,294,296,298,300,302,305,307,309,311,313,315,317,319,321,323,325,327,329,331,333,335,337,339,341,343,345,347,349,351,353,355,357,359,361,363,366],
            "grid": true, "gridColor": "#55bcab",
            "gridWidth": {"condition": [{"test": "datum.value == 0 || date(datetime(2000, 0, datum.value + 1)) == 1", "value": 1.8}, {"test": "date(datetime(2000, 0, datum.value)) == 10 || date(datetime(2000, 0, datum.value)) == 20", "value": 1.2}], "value": 0.6},
            "gridOpacity": {"condition": {"test": "datum.value == 0 || date(datetime(2000, 0, datum.value + 1)) == 1 || date(datetime(2000, 0, datum.value)) == 10 || date(datetime(2000, 0, datum.value)) == 20", "value": 1}, "value": 0.6},
            "domain": true, "domainColor": "#55bcab", "domainWidth": 1.8,
            "ticks": false,
            "labelExpr": "(date(datetime(2000, 0, datum.value)) == 10 || date(datetime(2000, 0, datum.value)) == 20 || (datum.value > 0 && date(datetime(2000, 0, datum.value + 1)) == 1)) ? '' + date(datetime(2000, 0, datum.value)) : ''",
            "labelFont": "DejaVu Sans", "labelFontSize": 10, "labelColor": "#5db3ad", "labelPadding": 3,
            "labelFlush": false, "labelOverlap": false
          }},
        "x2": {"field": "end"},
        "y": {"field": "top", "type": "quantitative", "scale": {"domain": [-1, 13], "nice": false, "zero": false},
          "axis": {
            "orient": "left", "title": null, "tickCount": 1000,
            "values": [-1,-0.9,-0.8,-0.7,-0.6,-0.5,-0.4,-0.3,-0.2,-0.1,0,0.1,0.2,0.3,0.4,0.5,0.6,0.7,0.8,0.9,1,1.1,1.2,1.3,1.4,1.5,1.6,1.7,1.8,1.9,2,2.1,2.2,2.3,2.4,2.5,2.6,2.7,2.8,2.9,3,3.1,3.2,3.3,3.4,3.5,3.6,3.7,3.8,3.9,4,4.1,4.2,4.3,4.4,4.5,4.6,4.7,4.8,4.9,5,5.1,5.2,5.3,5.4,5.5,5.6,5.7,5.8,5.9,6,6.1,6.2,6.3,6.4,6.5,6.6,6.7,6.8,6.9,7,7.1,7.2,7.3,7.4,7.5,7.6,7.7,7.8,7.9,8,8.1,8.2,8.3,8.4,8.5,8.6,8.7,8.8,8.9,9,9.1,9.2,9.3,9.4,9.5,9.6,9.7,9.8,9.9,10,10.1,10.2,10.3,10.4,10.5,10.6,10.7,10.8,10.9,11,11.1,11.2,11.3,11.4,11.5,11.6,11.7,11.8,11.9,12,12.1,12.2,12.3,12.4,12.5,12.6,12.7,12.8,12.9,13],
            "grid": true, "gridColor": "#55bcab",
            "gridWidth": {"condition": [{"test": "abs(datum.value - round(datum.value)) < 0.001", "value": 1.8}, {"test": "abs(datum.value * 2 - round(datum.value * 2)) < 0.001", "value": 1.1}], "value": 0.6},
            "gridOpacity": {"condition": {"test": "abs(datum.value * 2 - round(datum.value * 2)) < 0.001", "value": 1}, "value": 0.6},
            "domain": false,
            "ticks": true, "tickSize": 26, "tickColor": "#55bcab",
            "tickWidth": {"condition": {"test": "abs(datum.value - round(datum.value)) < 0.001", "value": 1.6}, "value": 1.1},
            "tickOpacity": {"condition": {"test": "abs(datum.value * 2 - round(datum.value * 2)) < 0.001", "value": 1}, "value": 0},
            "labelExpr": "(abs(datum.value - round(datum.value)) < 0.001 && datum.value >= 0 && datum.value <= 12) ? (datum.value >= 7 ? '' + round(datum.value - 7) : '' + round(datum.value)) : ''",
            "labelFont": "Liberation Serif", "labelFontStyle": "italic", "labelFontSize": 16, "labelColor": "#5b9db6",
            "labelPadding": 4, "labelOverlap": false
          }},
        "y2": {"field": "bottom"},
        "color": {"field": "year", "type": "nominal", "legend": null, "scale": {"domain": ["1881","1882","1883","1884","1885","1886","1887","1888","1889","1890","mean"], "range": ["#262626","#e3252f","#6cbb86","#f08e6a","#3e89a5","#262626","#e3252f","#6cbb86","#f08e6a","#3e89a5","#4b8cab"]}},
        "opacity": {"field": "tone", "type": "nominal", "legend": null, "scale": {"domain": ["solid", "light"], "range": [1, 0.45]}}
      }
    },
    {
      "data": {"name": "ticks"},
      "transform": [{"filter": "datum.period == '1886-1890'"}],
      "mark": {"type": "rule", "color": "#1c1c1c", "strokeWidth": 2.5},
      "encoding": {
        "x": {"field": "day", "type": "quantitative", "scale": {"domain": [0, 366], "nice": false, "zero": false}, "axis": {"title": null}},
        "y": {"field": "top", "type": "quantitative", "scale": {"domain": [-1, 13], "nice": false, "zero": false},
          "axis": {
            "orient": "right", "title": null, "tickCount": 1000,
            "values": [0,1,2,3,4,5,6,7,8,9,10,11,12],
            "grid": false, "domain": false,
            "ticks": true, "tickSize": 26, "tickColor": "#55bcab", "tickWidth": 1.6,
            "labelExpr": "datum.value >= 7 ? '' + round(datum.value - 7) : '' + round(datum.value)",
            "labelFont": "Liberation Serif", "labelFontStyle": "italic", "labelFontSize": 16, "labelColor": "#5b9db6",
            "labelPadding": 5, "labelOverlap": false
          }},
        "y2": {"field": "bottom"}
      }
    },
    {
      "data": {"values": [{}]},
      "mark": {"type": "rule", "color": "#6ac2b2", "strokeWidth": 9.6, "strokeDash": [10.3, 10.3], "strokeCap": "butt"},
      "encoding": {
        "x": {"datum": -3, "type": "quantitative", "scale": {"domain": [0, 366], "nice": false, "zero": false}, "axis": {"title": null}},
        "y": {"datum": 13, "type": "quantitative", "scale": {"domain": [-1, 13], "nice": false, "zero": false}, "axis": null},
        "y2": {"datum": -1}
      }
    },
    {
      "data": {"values": [{}]},
      "mark": {"type": "rule", "color": "#6ac2b2", "strokeWidth": 9.6, "strokeDash": [10.3, 10.3], "strokeDashOffset": 10.3, "strokeCap": "butt"},
      "encoding": {
        "x": {"datum": -1.05, "type": "quantitative", "scale": {"domain": [0, 366], "nice": false, "zero": false}, "axis": {"title": null}},
        "y": {"datum": 13, "type": "quantitative", "scale": {"domain": [-1, 13], "nice": false, "zero": false}, "axis": null},
        "y2": {"datum": -1}
      }
    },
    {
      "data": {"values": [{}]},
      "mark": {"type": "rule", "color": "#6ac2b2", "strokeWidth": 9.6, "strokeDash": [10.3, 10.3], "strokeCap": "butt"},
      "encoding": {
        "x": {"datum": 366.3, "type": "quantitative", "scale": {"domain": [0, 366], "nice": false, "zero": false}, "axis": {"title": null}},
        "y": {"datum": 13, "type": "quantitative", "scale": {"domain": [-1, 13], "nice": false, "zero": false}, "axis": null},
        "y2": {"datum": -1}
      }
    },
    {
      "data": {"values": [{}]},
      "mark": {"type": "rule", "color": "#6ac2b2", "strokeWidth": 9.6, "strokeDash": [10.3, 10.3], "strokeDashOffset": 10.3, "strokeCap": "butt"},
      "encoding": {
        "x": {"datum": 368.25, "type": "quantitative", "scale": {"domain": [0, 366], "nice": false, "zero": false}, "axis": {"title": null}},
        "y": {"datum": 13, "type": "quantitative", "scale": {"domain": [-1, 13], "nice": false, "zero": false}, "axis": null},
        "y2": {"datum": -1}
      }
    },
    {
      "data": {"name": "months"},
      "mark": {"type": "text", "dy": 24, "fontSize": 11, "font": "DejaVu Sans", "color": "#5db3ad"},
      "encoding": {
        "x": {"field": "day", "type": "quantitative", "scale": {"domain": [0, 366], "nice": false, "zero": false}, "axis": {"title": null}},
        "y": {"datum": -1, "type": "quantitative", "scale": {"domain": [-1, 13], "nice": false, "zero": false}, "axis": null},
        "text": {"field": "name"}
      }
    },
    {
      "data": {"name": "lines"},
      "transform": [{"filter": "datum.period == '1886-1890' && datum.year != 'mean' && datum.year != '1886'"}],
      "mark": {"type": "line", "strokeWidth": 1.3, "interpolate": "monotone"},
      "encoding": {
        "x": {"field": "day", "type": "quantitative", "scale": {"domain": [0, 366], "nice": false, "zero": false}, "axis": {"title": null}},
        "y": {"field": "level", "type": "quantitative", "scale": {"domain": [-1, 13], "nice": false, "zero": false}, "axis": null},
        "color": {"field": "year", "type": "nominal", "legend": null, "scale": {"domain": ["1881","1882","1883","1884","1885","1886","1887","1888","1889","1890","mean"], "range": ["#262626","#e3252f","#6cbb86","#f08e6a","#3e89a5","#262626","#e3252f","#6cbb86","#f08e6a","#3e89a5","#4b8cab"]}}
      }
    },
    {
      "data": {"name": "lines"},
      "transform": [{"filter": "datum.period == '1886-1890' && datum.year == 'mean'"}],
      "mark": {"type": "line", "strokeWidth": 1.3, "strokeDash": [5, 4], "color": "#4b8cab", "interpolate": "monotone"},
      "encoding": {
        "x": {"field": "day", "type": "quantitative", "scale": {"domain": [0, 366], "nice": false, "zero": false}, "axis": {"title": null}},
        "y": {"field": "level", "type": "quantitative", "scale": {"domain": [-1, 13], "nice": false, "zero": false}, "axis": null}
      }
    },
    {
      "data": {"name": "lines"},
      "transform": [{"filter": "datum.period == '1886-1890' && datum.year == '1886'"}],
      "mark": {"type": "line", "strokeWidth": 1.9, "color": "#222222", "interpolate": "monotone"},
      "encoding": {
        "x": {"field": "day", "type": "quantitative", "scale": {"domain": [0, 366], "nice": false, "zero": false}, "axis": {"title": null}},
        "y": {"field": "level", "type": "quantitative", "scale": {"domain": [-1, 13], "nice": false, "zero": false}, "axis": null}
      }
    },
    {
      "data": {"name": "marks"},
      "transform": [{"filter": "datum.period == '1886-1890'"}],
      "mark": {"type": "rule", "color": "#222222", "strokeWidth": 1.5},
      "encoding": {
        "x": {"field": "from", "type": "quantitative", "scale": {"domain": [0, 366], "nice": false, "zero": false}, "axis": {"title": null}},
        "x2": {"field": "to"},
        "y": {"field": "level", "type": "quantitative", "scale": {"domain": [-1, 13], "nice": false, "zero": false}, "axis": null}
      }
    },
    {
      "data": {"name": "notes"},
      "transform": [{"filter": "datum.period == '1886-1890'"}],
      "mark": {"type": "text", "fontSize": 13, "fontWeight": "bold", "font": "DejaVu Serif", "color": "#222222"},
      "encoding": {
        "x": {"field": "day", "type": "quantitative", "scale": {"domain": [0, 366], "nice": false, "zero": false}, "axis": {"title": null}},
        "y": {"field": "level", "type": "quantitative", "scale": {"domain": [-1, 13], "nice": false, "zero": false}, "axis": null},
        "text": {"field": "text"}
      }
    },
    {
      "data": {"name": "titles"},
      "transform": [{"filter": "datum.period == '1886-1890'"}],
      "mark": {"type": "text", "fontSize": 22, "fontWeight": "bold", "font": "DejaVu Serif", "color": "#1e1e1e"},
      "encoding": {
        "x": {"field": "day", "type": "quantitative", "scale": {"domain": [0, 366], "nice": false, "zero": false}, "axis": {"title": null}},
        "y": {"field": "level", "type": "quantitative", "scale": {"domain": [-1, 13], "nice": false, "zero": false}, "axis": null},
        "text": {"field": "text"}
      }
    },
    {
      "data": {"name": "bars"},
      "transform": [{"filter": "datum.period == '1881-1885'"}],
      "mark": {"type": "rect"},
      "encoding": {
        "x": {"field": "start", "type": "quantitative", "scale": {"domain": [0, 366], "nice": false, "zero": false}, "axis": {"title": null}},
        "x2": {"field": "end"},
        "y": {"field": "top", "type": "quantitative", "scale": {"domain": [-8, 6], "nice": false, "zero": false}, "axis": null},
        "y2": {"field": "bottom"},
        "color": {"field": "year", "type": "nominal", "legend": null, "scale": {"domain": ["1881","1882","1883","1884","1885","1886","1887","1888","1889","1890","mean"], "range": ["#262626","#e3252f","#6cbb86","#f08e6a","#3e89a5","#262626","#e3252f","#6cbb86","#f08e6a","#3e89a5","#4b8cab"]}},
        "opacity": {"field": "tone", "type": "nominal", "legend": null, "scale": {"domain": ["solid", "light"], "range": [1, 0.45]}}
      }
    },
    {
      "data": {"name": "ticks"},
      "transform": [{"filter": "datum.period == '1881-1885'"}],
      "mark": {"type": "rule", "color": "#1c1c1c", "strokeWidth": 2.5},
      "encoding": {
        "x": {"field": "day", "type": "quantitative", "scale": {"domain": [0, 366], "nice": false, "zero": false}, "axis": {"title": null}},
        "y": {"field": "top", "type": "quantitative", "scale": {"domain": [-8, 6], "nice": false, "zero": false}, "axis": null},
        "y2": {"field": "bottom"}
      }
    },
    {
      "data": {"name": "lines"},
      "transform": [{"filter": "datum.period == '1881-1885' && datum.year != 'mean' && datum.year != '1881'"}],
      "mark": {"type": "line", "strokeWidth": 1.3, "interpolate": "monotone"},
      "encoding": {
        "x": {"field": "day", "type": "quantitative", "scale": {"domain": [0, 366], "nice": false, "zero": false}, "axis": {"title": null}},
        "y": {"field": "level", "type": "quantitative", "scale": {"domain": [-8, 6], "nice": false, "zero": false}, "axis": null},
        "color": {"field": "year", "type": "nominal", "legend": null, "scale": {"domain": ["1881","1882","1883","1884","1885","1886","1887","1888","1889","1890","mean"], "range": ["#262626","#e3252f","#6cbb86","#f08e6a","#3e89a5","#262626","#e3252f","#6cbb86","#f08e6a","#3e89a5","#4b8cab"]}}
      }
    },
    {
      "data": {"name": "lines"},
      "transform": [{"filter": "datum.period == '1881-1885' && datum.year == 'mean'"}],
      "mark": {"type": "line", "strokeWidth": 1.3, "strokeDash": [5, 4], "color": "#4b8cab", "interpolate": "monotone"},
      "encoding": {
        "x": {"field": "day", "type": "quantitative", "scale": {"domain": [0, 366], "nice": false, "zero": false}, "axis": {"title": null}},
        "y": {"field": "level", "type": "quantitative", "scale": {"domain": [-8, 6], "nice": false, "zero": false}, "axis": null}
      }
    },
    {
      "data": {"name": "lines"},
      "transform": [{"filter": "datum.period == '1881-1885' && datum.year == '1881'"}],
      "mark": {"type": "line", "strokeWidth": 1.9, "color": "#222222", "interpolate": "monotone"},
      "encoding": {
        "x": {"field": "day", "type": "quantitative", "scale": {"domain": [0, 366], "nice": false, "zero": false}, "axis": {"title": null}},
        "y": {"field": "level", "type": "quantitative", "scale": {"domain": [-8, 6], "nice": false, "zero": false}, "axis": null}
      }
    },
    {
      "data": {"name": "marks"},
      "transform": [{"filter": "datum.period == '1881-1885'"}],
      "mark": {"type": "rule", "color": "#222222", "strokeWidth": 1.5},
      "encoding": {
        "x": {"field": "from", "type": "quantitative", "scale": {"domain": [0, 366], "nice": false, "zero": false}, "axis": {"title": null}},
        "x2": {"field": "to"},
        "y": {"field": "level", "type": "quantitative", "scale": {"domain": [-8, 6], "nice": false, "zero": false}, "axis": null}
      }
    },
    {
      "data": {"name": "notes"},
      "transform": [{"filter": "datum.period == '1881-1885'"}],
      "mark": {"type": "text", "fontSize": 13, "fontWeight": "bold", "font": "DejaVu Serif", "color": "#222222"},
      "encoding": {
        "x": {"field": "day", "type": "quantitative", "scale": {"domain": [0, 366], "nice": false, "zero": false}, "axis": {"title": null}},
        "y": {"field": "level", "type": "quantitative", "scale": {"domain": [-8, 6], "nice": false, "zero": false}, "axis": null},
        "text": {"field": "text"}
      }
    },
    {
      "data": {"name": "titles"},
      "transform": [{"filter": "datum.period == '1881-1885'"}],
      "mark": {"type": "text", "fontSize": 22, "fontWeight": "bold", "font": "DejaVu Serif", "color": "#1e1e1e"},
      "encoding": {
        "x": {"field": "day", "type": "quantitative", "scale": {"domain": [0, 366], "nice": false, "zero": false}, "axis": {"title": null}},
        "y": {"field": "level", "type": "quantitative", "scale": {"domain": [-8, 6], "nice": false, "zero": false}, "axis": null},
        "text": {"field": "text"}
      }
    }
  ]
}
